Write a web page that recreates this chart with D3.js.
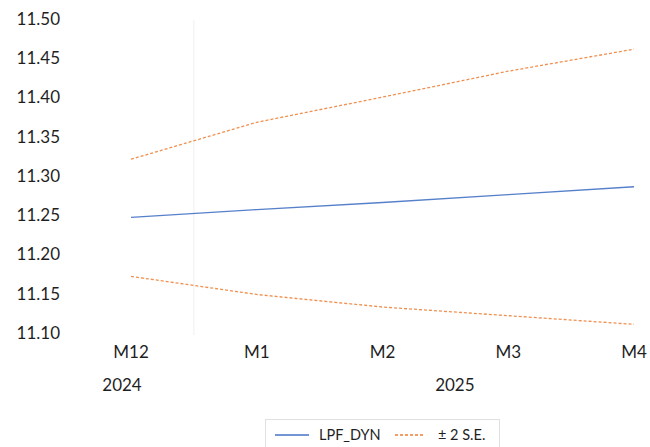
<!DOCTYPE html>
<html><head><meta charset="utf-8">
<script src="https://cdn.jsdelivr.net/npm/d3@7/dist/d3.min.js"></script>
<style>body{margin:0;background:#fff}svg{display:block}text{font-family:Lato,"Open Sans",sans-serif;fill:#1f1f1f}</style>
</head><body><svg id="c" width="650" height="447"></svg>
<script>
const categories = ["M12","M1","M2","M3","M4"];
const years = [{label:"2024", from:"M12", to:"M12"}, {label:"2025", from:"M1", to:"M4"}];
const lpfDyn = [11.247, 11.257, 11.266, 11.276, 11.286];
const upperSE = [11.321, 11.368, 11.400, 11.433, 11.461];
const lowerSE = [11.172, 11.149, 11.133, 11.122, 11.111];
const yTicks = [11.10, 11.15, 11.20, 11.25, 11.30, 11.35, 11.40, 11.45, 11.50];

const svg = d3.select("#c");
const x = d3.scalePoint().domain(categories).range([131, 634]);
const y = d3.scaleLinear().domain([11.10, 11.50]).range([333, 18.5]);
const step = x.step();

// y labels
svg.append("g").selectAll("text").data(yTicks).join("text")
  .attr("x", 60).attr("y", d => y(d)).attr("dy", "0.36em")
  .attr("text-anchor", "end").attr("font-size", 17)
  .text(d => d3.format(".2f")(d));

// year separator
svg.append("line").attr("x1", x("M12") + step/2).attr("x2", x("M12") + step/2)
  .attr("y1", y(11.50) + 2).attr("y2", y(11.10) + 2)
  .attr("stroke", "#efefef").attr("stroke-width", 1);

// x labels
svg.append("g").selectAll("text").data(categories).join("text")
  .attr("x", d => x(d)).attr("y", 358).attr("text-anchor", "middle")
  .attr("font-size", 17).text(d => d);
svg.append("g").selectAll("text").data(years).join("text")
  .attr("x", (d, i) => (x(d.from) + x(d.to)) / 2 + (i === 0 ? -9 : 9.5))
  .attr("y", 391).attr("text-anchor", "middle").attr("font-size", 17)
  .text(d => d.label);

const line = d3.line().x((d, i) => x(categories[i])).y(d => y(d));
svg.append("path").datum(upperSE).attr("d", line).attr("fill", "none")
  .attr("stroke", "#ED7D31").attr("stroke-width", 1.3).attr("stroke-dasharray", "3,2").attr("opacity", 0.85);
svg.append("path").datum(lowerSE).attr("d", line).attr("fill", "none")
  .attr("stroke", "#ED7D31").attr("stroke-width", 1.3).attr("stroke-dasharray", "3,2").attr("opacity", 0.85);
svg.append("path").datum(lpfDyn).attr("d", line).attr("fill", "none")
  .attr("stroke", "#4472C4").attr("stroke-width", 1.3).attr("opacity", 0.9);

// legend
const lg = svg.append("g");
lg.append("rect").attr("x", 265.5).attr("y", 419.5).attr("width", 234).attr("height", 40)
  .attr("fill", "#fff").attr("stroke", "#e0e0e0");
lg.append("line").attr("x1", 275).attr("x2", 309).attr("y1", 435).attr("y2", 435)
  .attr("stroke", "#4472C4").attr("stroke-width", 1.3);
lg.append("text").attr("x", 319).attr("y", 440).attr("font-size", 14.5).text("LPF_DYN");
lg.append("line").attr("x1", 395).attr("x2", 424).attr("y1", 435).attr("y2", 435)
  .attr("stroke", "#ED7D31").attr("stroke-width", 1.3).attr("stroke-dasharray", "3,2");
lg.append("text").attr("x", 438).attr("y", 440).attr("font-size", 14.5).text("± 2 S.E.");
</script></body></html>
